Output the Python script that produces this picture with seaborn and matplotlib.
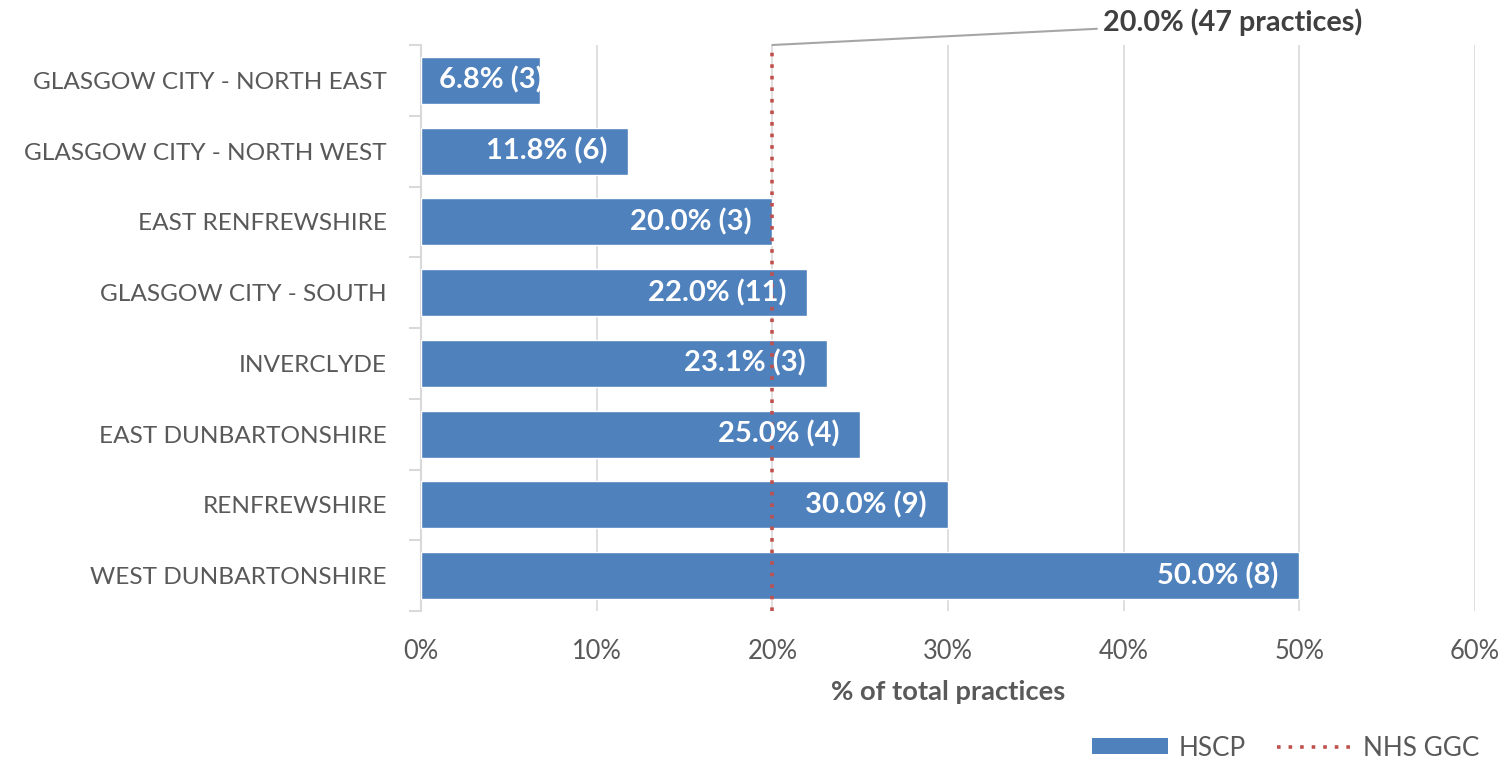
import matplotlib
matplotlib.use("Agg")
import matplotlib.pyplot as plt
import seaborn as sns
import pandas as pd
from matplotlib.patches import Patch
from matplotlib.lines import Line2D
from matplotlib.ticker import PercentFormatter

# data
areas = ['GLASGOW CITY - NORTH EAST', 'GLASGOW CITY - NORTH WEST', 'EAST RENFREWSHIRE',
         'GLASGOW CITY - SOUTH', 'INVERCLYDE', 'EAST DUNBARTONSHIRE', 'RENFREWSHIRE',
         'WEST DUNBARTONSHIRE']
pct = [6.8, 11.8, 20.0, 22.0, 23.1, 25.0, 30.0, 50.0]
practices = [3, 6, 3, 11, 3, 4, 9, 8]
board_pct = 20.0
board_practices = 47

blue = '#4F81BD'
red = '#C0504D'
grey_text = '#595959'

sns.set_style('white')
plt.rcParams['font.family'] = ['Lato', 'DejaVu Sans']

df = pd.DataFrame({'area': areas, 'pct': pct, 'n': practices})

fig = plt.figure(figsize=(15.06, 7.61), dpi=100)
ax = fig.add_axes([421 / 1506, 1 - 611 / 761, 1054 / 1506, 566 / 761])

sns.barplot(data=df, y='area', x='pct', orient='h', color=blue, saturation=1,
            width=0.665, ax=ax, zorder=3)

ax.set_xlim(0, 60)
ax.set_ylim(len(areas) - 0.5, -0.5)
ax.xaxis.set_major_formatter(PercentFormatter(decimals=0))
ax.set_xticks(range(0, 61, 10))
ax.grid(axis='x', color='#D9D9D9', linewidth=1.2, zorder=0)
ax.grid(axis='y', visible=False)
for s in ['top', 'right', 'bottom']:
    ax.spines[s].set_visible(False)
ax.spines['left'].set_color('#D9D9D9')
ax.spines['left'].set_linewidth(1.5)

# Excel-style category separators on the left axis
ax.set_yticks([i - 0.5 for i in range(len(areas) + 1)], minor=True)
ax.tick_params(axis='y', which='minor', length=9, width=1.5, color='#D9D9D9', left=True)
ax.tick_params(axis='y', which='major', length=0, pad=24.5, labelsize=17.6, labelcolor=grey_text)
ax.tick_params(axis='x', length=0, pad=20, labelsize=18.4, labelcolor=grey_text)
ax.set_ylabel('')
ax.set_xlabel('% of total practices', fontsize=19.7, fontweight='bold', color=grey_text, labelpad=12)

# value labels inside bars (clipped to the bar like the original)
for bar, v, n in zip(ax.patches, pct, practices):
    y = bar.get_y() + bar.get_height() / 2
    label = f'{v:.1f}% ({n})'
    if v < 10:
        t = ax.text(1.0, y, label, ha='left', va='center', color='white',
                    fontsize=21, fontweight='bold', zorder=5)
    else:
        t = ax.text(v - 1.2, y, label, ha='right', va='center', color='white',
                    fontsize=21, fontweight='bold', zorder=5)
    t.set_clip_path(bar)

# NHS GGC reference line
ax.axvline(board_pct, color=red, linestyle=(0, (1, 2.2)), linewidth=2.6, zorder=4)
ax.annotate(f'{board_pct:.1f}% ({board_practices} practices)',
            xy=(board_pct, -0.5), xycoords='data',
            xytext=(1103 / 1506, 1 - 22 / 761), textcoords='figure fraction',
            ha='left', va='center', fontsize=20.7, fontweight='bold', color='#404040',
            arrowprops=dict(arrowstyle='-', color='#A6A6A6', lw=1.5, shrinkA=2, shrinkB=0),
            annotation_clip=False)

handles = [Patch(facecolor=blue, edgecolor='none'),
           Line2D([0], [0], color=red, linestyle=(0, (1, 2.2)), linewidth=2.6)]
leg = fig.legend(handles, ['HSCP', 'NHS GGC'], loc='center right',
                 bbox_to_anchor=(1490 / 1506, 1 - 748 / 761), ncol=2, frameon=False,
                 fontsize=18.8, handlelength=2.9, handleheight=0.55, columnspacing=1.2,
                 handletextpad=0.4, borderaxespad=0)
for t in leg.get_texts():
    t.set_color(grey_text)

fig.savefig('out.png', dpi=100)
